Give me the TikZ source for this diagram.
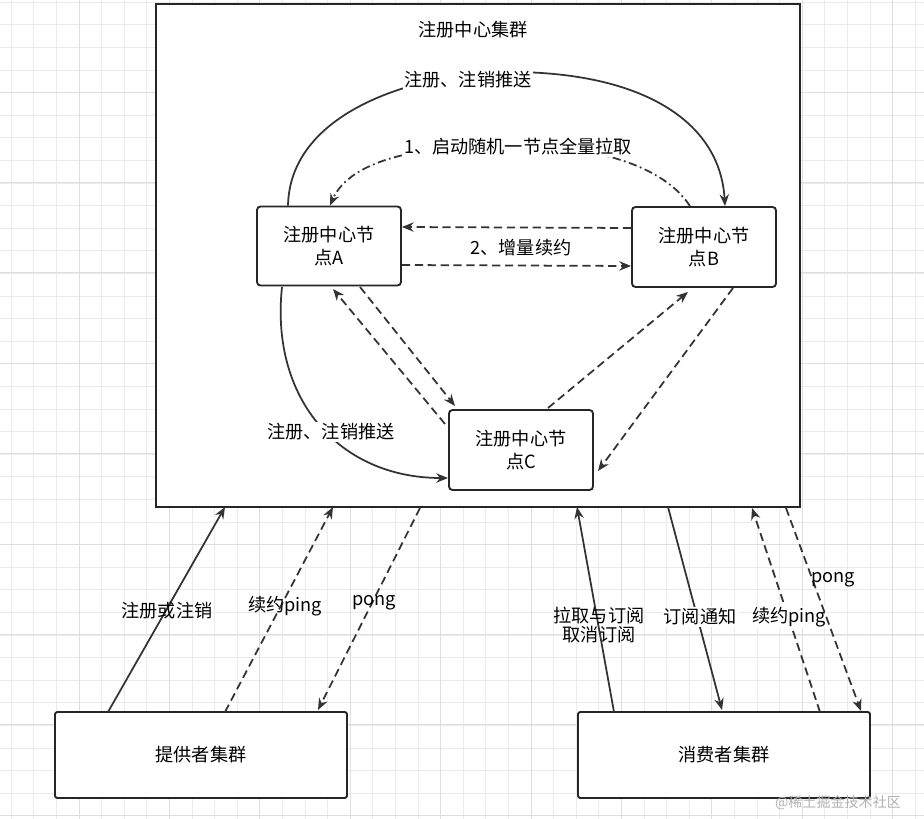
\documentclass[tikz,border=0pt]{standalone}
\usepackage{fontspec}
\setmainfont{Noto Sans CJK SC}
\usetikzlibrary{arrows.meta}
\begin{document}
\begin{tikzpicture}[x=0.03cm,y=-0.03cm,
  ln/.style={line width=1.5pt,draw=black!80,-{Stealth[length=10pt,width=8pt]}},
  dsh/.style={ln,dash pattern=on 7pt off 4pt},
  dd/.style={ln,dash pattern=on 7pt off 3pt on 1.5pt off 3pt},
  box/.style={draw=black!85,line width=1.6pt,fill=white,rounded corners=3pt,align=center,font=\fontsize{15.5}{19}\selectfont},
  lab/.style={fill=white,inner sep=1pt,font=\fontsize{15.5}{18}\selectfont,align=center},
  tx/.style={font=\fontsize{15.5}{18}\selectfont,align=center}]
\useasboundingbox (0,0) rectangle (924,819);
\fill[white] (0,0) rectangle (924,819);
\foreach \i in {0,...,41} {\draw[black!8,line width=0.5pt] (11+22.6*\i,0) -- (11+22.6*\i,819);}
\foreach \i in {0,...,36} {\draw[black!8,line width=0.5pt] (0,2+22.6*\i) -- (924,2+22.6*\i);}
\foreach \i in {0,...,10} {\draw[black!13,line width=0.6pt] (79+90.4*\i,0) -- (79+90.4*\i,819);}
\foreach \i in {0,...,9} {\draw[black!13,line width=0.6pt] (0,92+90.4*\i) -- (924,92+90.4*\i);}
\node[draw=black!85,line width=1.6pt,fill=white,minimum width=644*0.03cm,minimum height=503*0.03cm,anchor=north west,inner sep=0] (reg) at (155,3) {};
\node[tx] (title) at (473,30) {注册中心集群};
\node[box,minimum width=144*0.03cm,minimum height=79*0.03cm] (A) at (329,246) {注册中心节\\点A};
\node[box,minimum width=144*0.03cm,minimum height=80*0.03cm] (B) at (704,247) {注册中心节\\点B};
\node[box,minimum width=144*0.03cm,minimum height=80*0.03cm] (C) at (521,450) {注册中心节\\点C};
\node[box,rounded corners=2pt,minimum width=292*0.03cm,minimum height=86*0.03cm] (P) at (201,755) {提供者集群};
\node[box,rounded corners=2pt,minimum width=292*0.03cm,minimum height=86*0.03cm] (Q) at (724,755) {消费者集群};
% top curves
\draw[ln] ([xshift=-41*0.03cm]A.north) .. controls (290,110) and (420,72) .. (510,72) .. controls (640,72) and (720,120) .. ([xshift=21*0.03cm]B.north);
\node[lab] at (468,80) {注册、注销推送};
\draw[dd] ([xshift=-14*0.03cm]B.north) .. controls (660,160) and (580,145) .. (510,145) .. controls (420,145) and (350,160) .. ([xshift=1*0.03cm]A.north);
\node[lab] at (518,147) {1、启动随机一节点全量拉取};
% A-B
\draw[dsh] ([yshift=19*0.03cm]B.west) -- ([yshift=19*0.03cm]A.east);
\draw[dsh] ([yshift=-19*0.03cm]A.east) -- ([yshift=-19*0.03cm]B.west);
\node[tx] at (521,248) {2、增量续约};
% A-C
\draw[dsh] (360,287) -- (455,406);
\draw[dsh] (445,424) -- (333,289);
% B-C
\draw[dsh] (548,408) -- (688,292);
\draw[dsh] (733,288) -- (598,471);
% left curve
\draw[ln] (282,287) .. controls (270,400) and (340,478) .. (448,478);
\node[lab] at (331,432) {注册、注销推送};
% provider
\draw[ln] (108,712) -- (225,507);
\node[tx] at (167,611) {注册或注销};
\draw[dsh] (225,712) -- (333,507);
\node[tx] at (285,606) {续约ping};
\draw[dsh] (420,508) -- (318,710);
\node[tx] at (374,603) {pong};
% consumer
\draw[ln] (614,712) -- (577,507);
\node[lab,fill=none] at (599,625) {拉取与订阅\\[-2pt]取消订阅};
\draw[ln] (668,507) -- (722,710);
\node[lab] at (700,617) {订阅通知};
\draw[dsh] (820,712) -- (752,508);
\node[lab] at (789,617) {续约ping};
\draw[dsh] (786,508) -- (861,711);
\node[tx] at (833,580) {pong};
\node[tx,text=black!30,font=\fontsize{12}{14}\selectfont] at (838,803) {@稀土掘金技术社区};
\end{tikzpicture}
\end{document}
